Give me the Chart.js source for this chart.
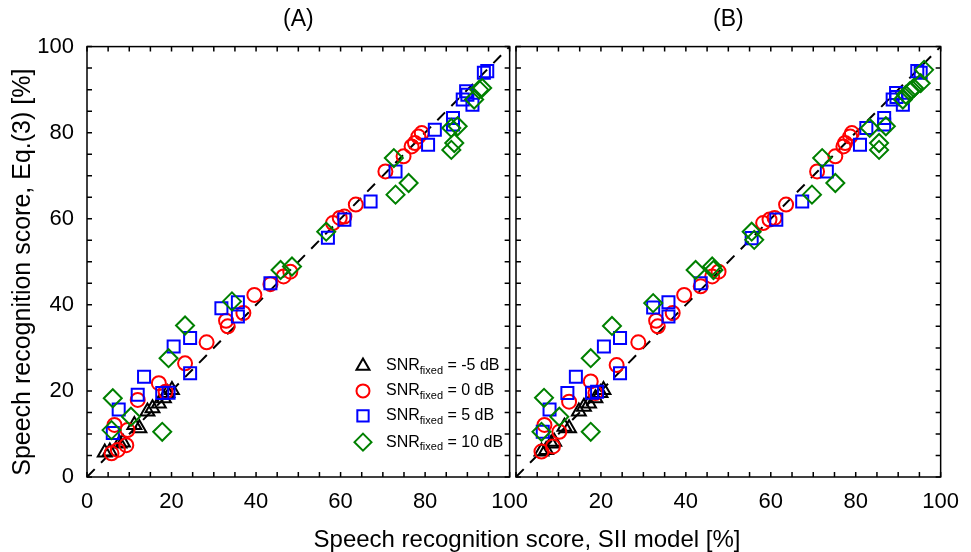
<!DOCTYPE html>
<html>
<head>
<meta charset="utf-8">
<script src="https://cdn.jsdelivr.net/npm/chart.js@4/dist/chart.umd.min.js"></script>
<style>
  body { margin: 0; background: #fff; }
  #wrap { position: relative; width: 971px; height: 552px; }
  canvas { position: absolute; top: 0; }
  #xtitle {
    position: absolute; left: 0; width: 1054px; top: 525px; text-align: center;
    font: 24px "Liberation Sans", Arial, sans-serif; color: #000;
  }
</style>
</head>
<body>
<div id="wrap">
  <canvas id="chart-a" width="540" height="552" style="left:0"></canvas>
  <canvas id="chart-b" width="471" height="552" style="left:500px"></canvas>
  <div id="xtitle">Speech recognition score, SII model [%]</div>
</div>
<script>
const FONT = '"Liberation Sans", Arial, sans-serif';

// [SII model score, Eq.(3) score] per SNR_fixed, panel (A)
const aMinus5 = [[4.2, 5.7], [5.4, 5.9], [7.7, 7.8], [8.5, 8.0], [11.2, 12.1], [12.4, 11.3],
    [14.3, 15.2], [15.5, 16.0], [17.0, 17.1], [18.2, 18.3], [19.0, 19.5], [20.1, 20.2]];
const aZero = [[5.8, 5.5], [7.3, 6.3], [9.3, 7.4], [6.5, 12.1], [9.6, 10.9], [12.0, 17.9],
    [17.0, 21.8], [18.6, 19.8], [23.2, 26.4], [28.3, 31.3], [32.9, 36.3], [33.3, 35.0],
    [37.0, 38.1], [39.6, 42.3], [43.4, 44.8], [46.5, 46.6], [48.1, 47.7], [58.2, 59.0],
    [59.8, 60.2], [60.9, 60.5], [63.6, 63.3], [70.6, 71.0], [74.9, 74.5], [76.8, 76.8],
    [77.6, 77.6], [78.4, 79.1], [79.2, 79.9]];
const aFive = [[6.1, 10.2], [7.5, 15.7], [12.0, 19.1], [13.5, 23.3], [17.8, 19.5], [19.3, 19.6],
    [20.5, 30.3], [24.4, 32.3], [24.4, 24.1], [31.8, 39.2], [35.7, 40.6], [35.7, 37.3],
    [43.4, 45.0], [57.0, 55.6], [60.9, 59.8], [67.1, 64.0], [73.0, 71.0], [80.7, 77.2],
    [82.3, 80.7], [86.6, 83.4], [86.6, 81.9], [88.9, 87.7], [89.7, 89.6], [90.0, 88.8],
    [91.2, 86.5], [93.9, 93.9], [94.7, 94.3]];
const aTen = [[5.8, 10.9], [6.1, 18.3], [10.4, 14.0], [17.8, 10.5], [19.3, 27.6], [23.2, 35.2],
    [34.3, 40.8], [45.8, 48.1], [48.5, 48.9], [56.6, 57.0], [72.6, 74.1], [73.0, 65.6],
    [76.1, 68.3], [86.2, 81.1], [87.7, 81.5], [86.9, 77.6], [86.2, 76.0], [91.6, 87.7],
    [92.8, 90.0], [93.5, 90.4]];

// panel (B)
const bMinus5 = [[6.0, 5.9], [7.1, 6.3], [8.3, 7.8], [9.0, 8.2], [11.4, 11.7], [12.5, 11.3],
    [14.8, 15.2], [16.0, 16.3], [17.2, 17.1], [18.7, 18.3], [19.9, 19.5], [20.6, 20.2]];
const bZero = [[6.0, 5.9], [8.7, 7.1], [10.2, 10.5], [6.7, 12.1], [12.5, 17.5], [17.6, 22.2],
    [18.7, 19.5], [23.7, 26.0], [28.8, 31.3], [33.4, 35.0], [33.0, 36.3], [36.9, 38.1],
    [39.6, 42.3], [43.5, 44.3], [46.2, 46.6], [47.7, 47.7], [58.2, 59.0], [59.7, 59.8],
    [60.9, 60.2], [63.6, 63.3], [70.9, 71.0], [75.2, 74.5], [77.1, 76.8], [77.5, 77.6],
    [78.7, 79.1], [79.1, 79.9]];
const bFive = [[6.3, 10.5], [7.9, 15.7], [12.1, 19.5], [14.1, 23.3], [17.9, 19.6], [19.1, 19.8],
    [20.7, 30.3], [24.5, 32.3], [24.5, 24.1], [32.3, 39.4], [35.9, 40.6], [35.9, 37.3],
    [43.5, 45.0], [55.5, 55.5], [61.3, 59.8], [67.4, 64.0], [73.2, 71.0], [81.0, 77.2],
    [82.5, 81.1], [86.7, 83.4], [86.7, 81.9], [88.7, 87.7], [89.5, 89.2], [89.6, 88.3],
    [91.1, 86.5], [94.5, 94.3], [95.3, 93.9]];
const bTen = [[6.0, 10.5], [6.6, 18.4], [10.2, 14.0], [17.6, 10.5], [17.6, 27.6], [22.6, 35.1],
    [32.3, 40.4], [42.3, 48.1], [46.2, 48.9], [46.5, 48.1], [55.5, 57.0], [56.1, 55.1],
    [69.7, 65.6], [72.1, 74.1], [75.2, 68.3], [83.3, 81.1], [87.1, 81.5], [85.5, 77.6],
    [85.5, 76.0], [91.1, 87.7], [91.8, 88.8], [92.7, 89.6], [93.3, 90.0], [93.7, 90.4],
    [95.3, 91.5], [96.1, 94.6]];

const identityLine = [[0, 0], [100, 100]];
const axisTicks = [0, 20, 40, 60, 80, 100];

const seriesStyle = [
    { label: 'SNR_fixed = -5 dB', sub: '-5 dB', color: '#000000', pointStyle: 'triangle', radius: 8 },
    { label: 'SNR_fixed = 0 dB', sub: '0 dB', color: '#ff0000', pointStyle: 'circle', radius: 7 },
    { label: 'SNR_fixed = 5 dB', sub: '5 dB', color: '#0000ff', pointStyle: 'rect', radius: 8.5 },
    { label: 'SNR_fixed = 10 dB', sub: '10 dB', color: '#008000', pointStyle: 'rectRot', radius: 9 }
];

function toXY(arr) {
    return arr.map(p => ({ x: p[0], y: p[1] }));
}

function makeDatasets(groups) {
    let sets = groups.map(function (g, i) {
        const s = seriesStyle[i];
        return {
            label: s.label,
            data: toXY(g),
            pointStyle: s.pointStyle,
            pointRadius: s.radius,
            pointHoverRadius: s.radius,
            pointBorderColor: s.color,
            pointBackgroundColor: 'rgba(0,0,0,0)',
            pointBorderWidth: 2,
            showLine: false,
            order: 4 - i
        };
    });
    sets.push({
        label: 'identity',
        data: toXY(identityLine),
        showLine: true,
        borderColor: '#000',
        borderWidth: 2,
        borderDash: [11, 9],
        pointRadius: 0,
        order: 10
    });
    return sets;
}

// box frame with inward ticks every 5 units on all four sides
const frameTicks = {
    id: 'frameTicks',
    afterDatasetsDraw(chart) {
        const { ctx, chartArea: a, scales: { x, y } } = chart;
        ctx.save();
        ctx.strokeStyle = '#000';
        ctx.lineWidth = 1.5;
        ctx.strokeRect(a.left, a.top, a.right - a.left, a.bottom - a.top);
        ctx.beginPath();
        for (let v = 0; v <= 100; v += 5) {
            const px = x.getPixelForValue(v), py = y.getPixelForValue(v);
            ctx.moveTo(px, a.bottom); ctx.lineTo(px, a.bottom - 5);
            ctx.moveTo(px, a.top); ctx.lineTo(px, a.top + 5);
            ctx.moveTo(a.left, py); ctx.lineTo(a.left + 5, py);
            ctx.moveTo(a.right, py); ctx.lineTo(a.right - 5, py);
        }
        ctx.stroke();
        ctx.restore();
    }
};

// legend with subscript text, drawn inside panel (A)
const subLegend = {
    id: 'subLegend',
    afterDraw(chart) {
        if (!chart.options.plugins.subLegend.show) return;
        const { ctx, scales: { x, y } } = chart;
        const mx = x.getPixelForValue(65.3);
        const rows = [25.8, 20.0, 14.2, 8.1];
        ctx.save();
        seriesStyle.forEach(function (s, i) {
            const my = y.getPixelForValue(rows[i]);
            ctx.strokeStyle = s.color;
            ctx.fillStyle = 'rgba(0,0,0,0)';
            ctx.lineWidth = 2;
            Chart.helpers.drawPoint(ctx, { pointStyle: s.pointStyle, radius: s.radius - 0.5, rotation: 0, borderWidth: 2 }, mx, my);
            ctx.fillStyle = '#000';
            ctx.textBaseline = 'middle';
            let tx = mx + 23;
            ctx.font = '16px ' + FONT;
            ctx.fillText('SNR', tx, my);
            tx += ctx.measureText('SNR').width;
            ctx.font = '11px ' + FONT;
            ctx.fillText('fixed', tx, my + 5);
            tx += ctx.measureText('fixed').width;
            ctx.font = '16px ' + FONT;
            ctx.fillText(' = ' + s.sub, tx, my);
        });
        ctx.restore();
    }
};

function makeChart(canvasId, panelTitle, groups, isLeft) {
    return new Chart(document.getElementById(canvasId), {
        type: 'scatter',
        data: { datasets: makeDatasets(groups) },
        options: {
            responsive: false,
            animation: false,
            layout: { padding: { left: isLeft ? 0 : 16, right: 24, top: 0, bottom: 0 } },
            plugins: {
                legend: { display: false },
                tooltip: { enabled: false },
                title: {
                    display: true,
                    fullSize: false,
                    text: panelTitle,
                    color: '#000',
                    font: { family: FONT, size: 23, weight: 'normal' },
                    padding: { top: 6, bottom: 13 }
                },
                subLegend: { show: isLeft }
            },
            scales: {
                x: {
                    type: 'linear',
                    min: 0,
                    max: 100,
                    afterFit: s => { s.height = 75; },
                    afterBuildTicks: s => { s.ticks = axisTicks.map(v => ({ value: v })); },
                    grid: { display: false, drawTicks: false },
                    border: { display: false },
                    ticks: {
                        autoSkip: false,
                        maxRotation: 0,
                        padding: 12,
                        color: '#000',
                        font: { family: FONT, size: 22 },
                        callback: v => (!isLeft && v === 0) ? '' : v
                    }
                },
                y: {
                    type: 'linear',
                    display: isLeft,
                    min: 0,
                    max: 100,
                    afterFit: s => { s.width = isLeft ? 87 : 0; },
                    afterBuildTicks: s => { s.ticks = axisTicks.map(v => ({ value: v })); },
                    grid: { display: false, drawTicks: false },
                    border: { display: false },
                    title: {
                        display: true,
                        text: 'Speech recognition score, Eq.(3) [%]\u00a0\u00a0\u00a0',
                        color: '#000',
                        font: { family: FONT, size: 25 },
                        padding: { top: 8, bottom: 0 }
                    },
                    ticks: {
                        padding: 13,
                        color: '#000',
                        font: { family: FONT, size: 22 }
                    }
                }
            }
        },
        plugins: [frameTicks, subLegend]
    });
}

makeChart('chart-a', '(A)', [aMinus5, aZero, aFive, aTen], true);
makeChart('chart-b', '(B)', [bMinus5, bZero, bFive, bTen], false);
</script>
</body>
</html>
